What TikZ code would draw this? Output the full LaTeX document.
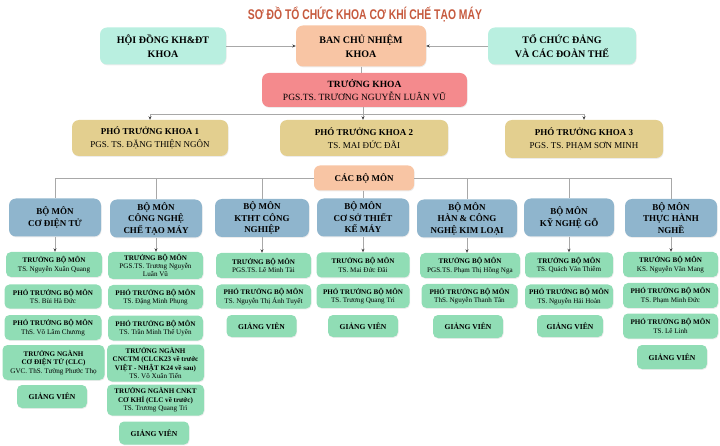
\documentclass[tikz,border=0pt]{standalone}
\usepackage{fontspec}
\setmainfont{Liberation Serif}
\newfontfamily\titlefont[FakeStretch=0.74]{Liberation Sans}
\usetikzlibrary{arrows.meta,shadows}

\definecolor{titlec}{HTML}{C65A3E}
\definecolor{mintc}{HTML}{B9EFE0}
\definecolor{peachc}{HTML}{F8C5A4}
\definecolor{pinkc}{HTML}{F48A8D}
\definecolor{khakic}{HTML}{E3CF8F}
\definecolor{bluec}{HTML}{8FB5CD}
\definecolor{greenc}{HTML}{90DDB5}
\definecolor{linec}{HTML}{A8A8A8}

\tikzset{
	hop/.style={rounded corners=7pt, align=center, inner sep=1pt,
		drop shadow={opacity=0.15, shadow xshift=0.6pt, shadow yshift=-0.9pt}},
	topbox/.style={hop, font=\fontsize{10}{14}\selectfont\bfseries},
	chief/.style={hop, font=\fontsize{9.5}{13}\selectfont},
	ptkbox/.style={hop, fill=khakic, font=\fontsize{9}{13}\selectfont},
	bmbox/.style={hop, fill=bluec, minimum height=38pt, font=\fontsize{9}{11.5}\selectfont\bfseries},
	cvbox/.style={hop, rounded corners=5pt, fill=greenc, font=\fontsize{7.1}{8.4}\selectfont},
	gvbox/.style={cvbox, minimum width=70pt, minimum height=23pt, font=\fontsize{7.6}{9}\selectfont\bfseries},
	conn/.style={draw=linec, line width=0.6pt},
	tip/.style={conn, -{Stealth[length=3.5pt, width=3pt, color=black!75]}}
}

\begin{document}
\begin{tikzpicture}[x=1pt, y=-1pt]
	\useasboundingbox (0,0) rectangle (720,446);

	\node[text=titlec, font=\titlefont\fontsize{14}{14}\selectfont\bfseries] (title) at (365,14) {SƠ ĐỒ TỔ CHỨC KHOA CƠ KHÍ CHẾ TẠO MÁY};

	% ban chu nhiem
	\node[topbox, fill=mintc, minimum width=126pt, minimum height=37pt] (hoidong) at (163,46) {HỘI ĐỒNG KH\&ĐT\\KHOA};
	\node[topbox, fill=peachc, minimum width=130pt, minimum height=41pt] (bcn) at (361,46) {BAN CHỦ NHIỆM\\KHOA};
	\node[topbox, fill=mintc, minimum width=148pt, minimum height=37pt] (dang) at (562,46) {TỔ CHỨC ĐẢNG\\VÀ CÁC ĐOÀN THỂ};
	\node[chief, fill=pinkc, minimum width=205pt, minimum height=34pt] (truongkhoa) at (364.5,90) {\textbf{TRƯỞNG KHOA}\\PGS.TS. TRƯƠNG NGUYỄN LUÂN VŨ};

	\node[ptkbox, minimum width=156pt, minimum height=36pt] (ptk1) at (150,138) {\textbf{PHÓ TRƯỞNG KHOA 1}\\PGS. TS. ĐẶNG THIỆN NGÔN};
	\node[ptkbox, minimum width=168pt, minimum height=36pt] (ptk2) at (364,138) {\textbf{PHÓ TRƯỞNG KHOA 2}\\TS. MAI ĐỨC ĐÃI};
	\node[ptkbox, minimum width=158pt, minimum height=38pt] (ptk3) at (584,139) {\textbf{PHÓ TRƯỞNG KHOA 3}\\PGS. TS. PHẠM SƠN MINH};

	\node[topbox, fill=peachc, rounded corners=6pt, minimum width=100pt, minimum height=25pt, font=\fontsize{9}{11}\selectfont\bfseries] (cacbm) at (364,178) {CÁC BỘ MÔN};

	% cac bo mon
	\node[bmbox, minimum width=92pt] (bm1) at (55,217.5) {BỘ MÔN\\CƠ ĐIỆN TỬ};
	\node[bmbox, minimum width=92pt] (bm2) at (156,218.5) {BỘ MÔN\\CÔNG NGHỆ\\CHẾ TẠO MÁY};
	\node[bmbox, minimum width=94pt] (bm3) at (262,218) {BỘ MÔN\\KTHT CÔNG\\NGHIỆP};
	\node[bmbox, minimum width=92pt] (bm4) at (363,217.5) {BỘ MÔN\\CƠ SỞ THIẾT\\KẾ MÁY};
	\node[bmbox, minimum width=100pt] (bm5) at (467,218.5) {BỘ MÔN\\HÀN \& CÔNG\\NGHỆ KIM LOẠI};
	\node[bmbox, minimum width=90pt] (bm6) at (569,217.5) {BỘ MÔN\\KỸ NGHỆ GỖ};
	\node[bmbox, minimum width=92pt] (bm7) at (671,218) {BỘ MÔN\\THỰC HÀNH\\NGHỀ};

	% co dien tu
	\node[cvbox, minimum width=96pt, minimum height=25pt] (cv11) at (54,264.5) {\textbf{TRƯỞNG BỘ MÔN}\\TS. Nguyễn Xuân Quang};
	\node[cvbox, minimum width=97pt, minimum height=24pt] (cv12) at (53,296.5) {\textbf{PHÓ TRƯỞNG BỘ MÔN}\\TS. Bùi Hà Đức};
	\node[cvbox, minimum width=97pt, minimum height=25pt] (cv13) at (53,327.5) {\textbf{PHÓ TRƯỞNG BỘ MÔN}\\ThS. Võ Lâm Chương};
	\node[cvbox, minimum width=102pt, minimum height=35pt] (cv14) at (53.5,362.5) {\textbf{TRƯỞNG NGÀNH}\\\textbf{CƠ ĐIỆN TỬ (CLC)}\\GVC. ThS. Tường Phước Thọ};
	\node[gvbox] (gv1) at (52,396.5) {GIẢNG VIÊN};

	% cong nghe che tao may
	\node[cvbox, minimum width=95pt, minimum height=27pt] (cv21) at (155.5,265.5) {\textbf{TRƯỞNG BỘ MÔN}\\PGS.TS. Trương Nguyễn\\Luân Vũ};
	\node[cvbox, minimum width=95pt, minimum height=24pt] (cv22) at (155.5,297) {\textbf{PHÓ TRƯỞNG BỘ MÔN}\\TS. Đặng Minh Phụng};
	\node[cvbox, minimum width=95pt, minimum height=25pt] (cv23) at (155.5,328) {\textbf{PHÓ TRƯỞNG BỘ MÔN}\\TS. Trần Minh Thế Uyên};
	\node[cvbox, minimum width=97pt, minimum height=37pt] (cv24) at (155.5,363) {\textbf{TRƯỞNG NGÀNH}\\\textbf{CNCTM (CLCK23 về trước}\\\textbf{VIỆT - NHẬT K24 về sau)}\\TS. Võ Xuân Tiến};
	\node[cvbox, minimum width=97pt, minimum height=31pt] (cv25) at (155.5,400) {\textbf{TRƯỞNG NGÀNH CNKT}\\\textbf{CƠ KHÍ (CLC về trước)}\\TS. Trương Quang Trì};
	\node[gvbox] (gv2) at (154,433) {GIẢNG VIÊN};

	% ktht cong nghiep
	\node[cvbox, minimum width=95pt, minimum height=25pt] (cv31) at (263.5,265.5) {\textbf{TRƯỞNG BỘ MÔN}\\PGS.TS. Lê Minh Tài};
	\node[cvbox, minimum width=95pt, minimum height=24pt] (cv32) at (263.5,296.5) {\textbf{PHÓ TRƯỞNG BỘ MÔN}\\TS. Nguyễn Thị Ánh Tuyết};
	\node[gvbox, minimum height=22pt] (gv3) at (261.5,326) {GIẢNG VIÊN};

	% co so thiet ke may
	\node[cvbox, minimum width=93pt, minimum height=25pt] (cv41) at (363,265) {\textbf{TRƯỞNG BỘ MÔN}\\TS. Mai Đức Đãi};
	\node[cvbox, minimum width=93pt, minimum height=24pt] (cv42) at (363,296) {\textbf{PHÓ TRƯỞNG BỘ MÔN}\\TS. Trương Quang Trì};
	\node[gvbox, minimum height=22pt] (gv4) at (363,326) {GIẢNG VIÊN};

	% han & cong nghe kim loai
	\node[cvbox, minimum width=100pt, minimum height=25pt] (cv51) at (470,265.5) {\textbf{TRƯỞNG BỘ MÔN}\\PGS.TS. Phạm Thị Hồng Nga};
	\node[cvbox, minimum width=96pt, minimum height=24pt] (cv52) at (469.5,296) {\textbf{PHÓ TRƯỞNG BỘ MÔN}\\ThS. Nguyễn Thanh Tân};
	\node[gvbox] (gv5) at (468,326.5) {GIẢNG VIÊN};

	% ky nghe go
	\node[cvbox, minimum width=88pt, minimum height=25pt] (cv61) at (569,265) {\textbf{TRƯỞNG BỘ MÔN}\\TS. Quách Văn Thiêm};
	\node[cvbox, minimum width=88pt, minimum height=24pt] (cv62) at (569,296.5) {\textbf{PHÓ TRƯỞNG BỘ MÔN}\\TS. Nguyễn Hải Hoàn};
	\node[gvbox, minimum width=66pt, minimum height=22pt] (gv6) at (570,326) {GIẢNG VIÊN};

	% thuc hanh nghe
	\node[cvbox, minimum width=95pt, minimum height=25pt] (cv71) at (670.5,264.5) {\textbf{TRƯỞNG BỘ MÔN}\\KS. Nguyễn Văn Mang};
	\node[cvbox, minimum width=95pt, minimum height=25pt] (cv72) at (670.5,295.5) {\textbf{PHÓ TRƯỞNG BỘ MÔN}\\TS. Phạm Minh Đức};
	\node[cvbox, minimum width=95pt, minimum height=25pt] (cv73) at (670.5,326) {\textbf{PHÓ TRƯỞNG BỘ MÔN}\\TS. Lê Linh};
	\node[gvbox, minimum height=24pt] (gv7) at (672,357) {GIẢNG VIÊN};

	% connectors
	\draw[tip] (hoidong) -- (bcn);
	\draw[tip] (dang) -- (bcn);
	\draw[conn] (bcn.south) -- (bcn.south |- truongkhoa.north);
	\coordinate (chia) at (363,114);
	\draw[conn] (truongkhoa.south -| chia) -- (chia);
	\draw[tip] (chia) -| (ptk1);
	\draw[tip] (chia) -- (chia |- ptk2.north);
	\draw[tip] (chia) -| (ptk3);

	\draw[conn] (cacbm.west) -| (bm1.north);
	\draw[conn] (cacbm.west) -| (bm2.north);
	\draw[conn] (cacbm.west) -| (bm3.north);
	\draw[conn] (cacbm.south -| bm4.north) -- (bm4.north);
	\draw[conn] (cacbm.east) -| (bm5.north);
	\draw[conn] (cacbm.east) -| (bm6.north);
	\draw[conn] (cacbm.east) -| (bm7.north);

	\foreach \i in {1,...,7}
		\draw[tip] (bm\i.south) -- (bm\i.south |- cv\i1.north);
\end{tikzpicture}
\end{document}
